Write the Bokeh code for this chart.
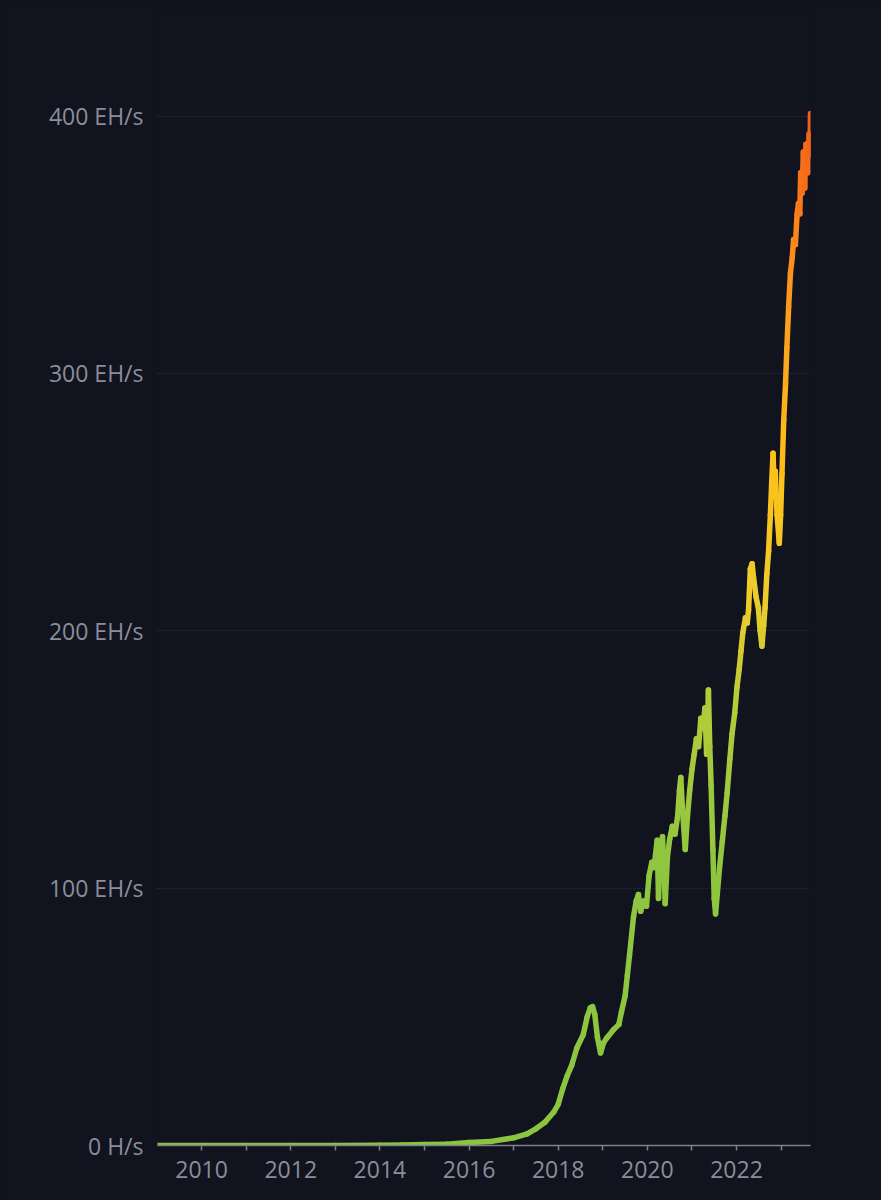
import numpy as np
from bokeh.plotting import figure
from bokeh.models import ColumnDataSource, Range1d, FixedTicker, LinearColorMapper
from bokeh.transform import transform
from bokeh.embed import file_html
from bokeh.resources import INLINE

# ---- data (decimal year, hashrate in EH/s) ----
years = [2009.01, 2010.0, 2011.0, 2012.0, 2013.0, 2014.0, 2014.5, 2015.0, 2015.5,
         2016.0, 2016.5, 2017.0, 2017.3, 2017.5, 2017.7, 2017.9, 2018.0, 2018.1,
         2018.2, 2018.3, 2018.42, 2018.56, 2018.65, 2018.72, 2018.77, 2018.82,
         2018.88, 2018.95, 2019.02, 2019.1, 2019.24, 2019.36, 2019.42, 2019.5,
         2019.55, 2019.6, 2019.69, 2019.75, 2019.8, 2019.85, 2019.92, 2019.98,
         2020.04, 2020.1, 2020.15, 2020.22, 2020.25, 2020.3, 2020.34, 2020.38,
         2020.4, 2020.45, 2020.5, 2020.56, 2020.62, 2020.68, 2020.72, 2020.75,
         2020.79, 2020.85, 2020.9, 2020.95, 2021.0, 2021.05, 2021.1, 2021.15,
         2021.2, 2021.25, 2021.29, 2021.33, 2021.37, 2021.4, 2021.43, 2021.47,
         2021.5, 2021.53, 2021.57, 2021.62, 2021.68, 2021.74, 2021.79, 2021.85,
         2021.9, 2021.96, 2022.01, 2022.06, 2022.1, 2022.14, 2022.2, 2022.24,
         2022.27, 2022.31, 2022.35, 2022.38, 2022.44, 2022.49, 2022.53, 2022.57,
         2022.61, 2022.64, 2022.68, 2022.72, 2022.76, 2022.79, 2022.82, 2022.85,
         2022.87, 2022.91, 2022.96, 2022.99, 2023.02, 2023.06, 2023.1, 2023.13,
         2023.17, 2023.21, 2023.25, 2023.28, 2023.32, 2023.36, 2023.39, 2023.42,
         2023.44, 2023.47, 2023.5, 2023.53, 2023.56, 2023.6, 2023.63, 2023.65,
         2023.66]
hashrate = [0, 0, 0, 0, 0.01, 0.1, 0.2, 0.35, 0.5,
            1.2, 1.6, 3.0, 4.5, 6.5, 9, 13, 16, 22,
            27, 31, 38, 43, 50, 53.5, 54, 51,
            42, 36, 40, 42, 45, 47, 52, 58,
            66, 74, 89, 95, 97.5, 91, 95, 93,
            105, 110, 108, 118.6, 96, 116, 120, 105,
            94, 112, 119, 124, 121, 128, 138, 143,
            130, 115, 128, 138, 146, 152, 158, 155,
            166, 162, 170, 152, 177, 155, 140, 115,
            96, 90, 98, 108, 118, 128, 137, 150,
            160, 168, 178, 185, 192, 199, 205, 203,
            208, 224, 226, 221, 213, 209, 200, 194,
            202, 209, 222, 231, 245, 258, 269, 252,
            262, 245, 234, 245, 261, 282, 296, 310,
            326, 339, 345, 352, 350, 362, 366, 362,
            378, 370, 386, 372, 389, 378, 393, 385,
            401]

year_ticks = list(range(2010, 2024))
year_labels = {y: (str(y) if y % 2 == 0 else "") for y in year_ticks}
value_ticks = [0, 100, 200, 300, 400]
value_labels = {0: "0 H/s", 100: "100 EH/s", 200: "200 EH/s", 300: "300 EH/s", 400: "400 EH/s"}

# ---- styling ----
BG = "#11131e"
TXT = "#8a8e9a"
stops = [(0, "#8bc53f"), (110, "#8fc640"), (170, "#b3cb3a"), (210, "#eccc2b"),
         (260, "#fcc11b"), (300, "#fdaa1b"), (350, "#fb8b1c"), (400, "#f25e1a")]


def hex2rgb(h):
    return np.array([int(h[i:i + 2], 16) for i in (1, 3, 5)], dtype=float)


pal = []
sv = [s[0] for s in stops]
cols = np.array([hex2rgb(s[1]) for s in stops])
for t in np.linspace(0, 400, 256):
    rgb = [np.interp(t, sv, cols[:, k]) for k in range(3)]
    pal.append("#%02x%02x%02x" % tuple(int(round(c)) for c in rgb))

x = np.array(years)
y = np.array(hashrate)
src = ColumnDataSource(dict(x0=x[:-1], x1=x[1:], y0=y[:-1], y1=y[1:],
                            ym=(y[:-1] + y[1:]) / 2))
mapper = LinearColorMapper(palette=pal, low=0, high=400)

W, H = 881, 1200
p = figure(width=W, height=H, output_backend="svg", toolbar_location=None,
           x_range=Range1d(2009.01, 2023.66), y_range=Range1d(0, 441),
           min_border_left=157, min_border_right=71, min_border_top=10,
           min_border_bottom=55)
p.background_fill_color = BG
p.border_fill_color = BG
p.outline_line_color = None

p.segment(x0="x0", y0="y0", x1="x1", y1="y1", source=src,
          line_color=transform("ym", mapper), line_width=5.5, line_cap="round")

p.xgrid.visible = False
p.ygrid.grid_line_color = "#2a2d3b"
p.ygrid.grid_line_dash = "2 2"
p.ygrid.grid_line_width = 1

p.xaxis.ticker = FixedTicker(ticks=year_ticks)
p.xaxis.major_label_overrides = year_labels
p.xaxis.axis_line_color = "#7d818d"
p.xaxis.axis_line_width = 1.5
p.xaxis.major_tick_line_color = "#7d818d"
p.xaxis.major_tick_line_width = 1.5
p.xaxis.major_tick_out = 5
p.xaxis.major_tick_in = 0
p.xaxis.minor_tick_line_color = None
p.xaxis.major_label_text_color = TXT
p.xaxis.major_label_text_font = "Open Sans"
p.xaxis.major_label_text_font_size = "23px"
p.xaxis.major_label_standoff = 10

p.yaxis.ticker = FixedTicker(ticks=value_ticks)
p.yaxis.major_label_overrides = value_labels
p.yaxis.axis_line_color = None
p.yaxis.major_tick_line_color = None
p.yaxis.minor_tick_line_color = None
p.yaxis.major_label_text_color = TXT
p.yaxis.major_label_text_font = "Open Sans"
p.yaxis.major_label_text_font_size = "23px"
p.yaxis.major_label_standoff = 8

html = file_html(p, INLINE)
html = html.replace("</head>", "<style>html,body{background:%s;}</style></head>" % BG, 1)
open("out.html", "w").write(html)
